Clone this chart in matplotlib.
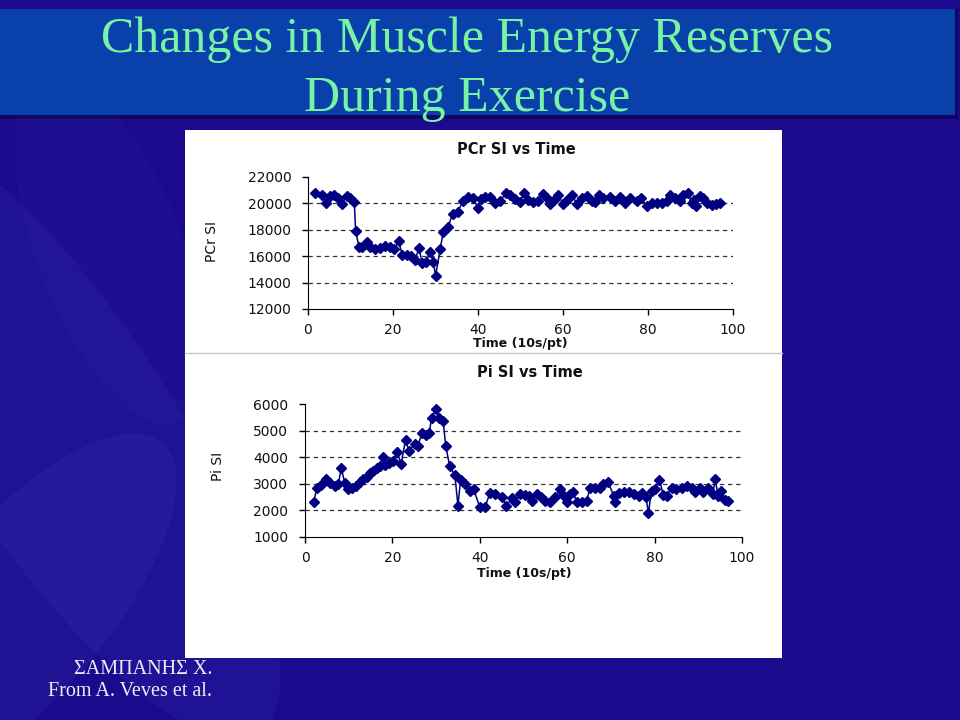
import matplotlib.pyplot as plt
from matplotlib.patches import Rectangle, Ellipse
from matplotlib.lines import Line2D

# -----------------------------
# Data
# -----------------------------
pcr_time = [1.7, 3.2, 4.2, 5.2, 6.2, 7.1, 7.9, 9.1, 9.9, 10.9, 11.2, 12.0, 12.8, 13.8,
            14.6, 15.8, 16.9, 18.1, 19.3, 20.3, 21.3, 22.2, 23.2, 24.2, 25.2, 26.1,
            26.9, 27.8, 28.7, 29.5, 30.0, 31.1, 31.8, 33.0, 34.0, 35.2, 36.5, 37.7,
            38.9, 40.0, 40.6, 41.6, 42.8, 44.0, 45.2, 46.6, 47.5, 48.7, 49.9, 50.8,
            51.8, 53.0, 54.2, 55.4, 56.3, 57.0, 57.8, 58.9, 60.0, 60.9, 62.1, 63.3,
            64.5, 65.6, 66.8, 67.6, 68.5, 69.5, 71.1, 72.2, 73.4, 74.6, 75.8, 77.3,
            78.4, 79.7, 80.9, 82.1, 83.2, 84.4, 85.2, 86.4, 87.5, 88.3, 89.5, 90.3,
            90.9, 91.4, 92.2, 93.0, 93.8, 95.0, 96.1, 96.9]
pcr_si = [20800, 20640, 20050, 20560, 20640, 20380, 19950, 20560, 20380, 20130, 17900,
          16720, 16720, 17100, 16720, 16550, 16600, 16750, 16720, 16550, 17150, 16090,
          16090, 16010, 15710, 16600, 15460, 15590, 16340, 15590, 14500, 16520, 17810,
          18240, 19200, 19350, 20200, 20460, 20380, 19630, 20330, 20510, 20510, 20050,
          20200, 20760, 20640, 20330, 20130, 20760, 20280, 20130, 20200, 20710, 20380,
          19950, 20250, 20640, 19950, 20250, 20640, 19950, 20380, 20560, 20200, 20130,
          20640, 20380, 20510, 20200, 20460, 20050, 20380, 20200, 20380, 19800, 20000,
          20050, 20000, 20200, 20640, 20380, 20200, 20640, 20810, 20000, 20250, 19800,
          20560, 20380, 20050, 19870, 19950, 20050]

pi_time = [2.0, 2.7, 3.7, 4.9, 5.8, 6.8, 7.6, 8.3, 9.1, 9.8, 10.8, 11.7, 12.5, 13.3,
           14.1, 14.8, 15.6, 16.4, 17.1, 17.9, 18.4, 19.2, 20.1, 21.1, 22.0, 23.0,
           23.8, 25.1, 25.8, 26.8, 27.7, 28.4, 29.0, 30.0, 30.6, 31.6, 32.2, 33.1,
           34.3, 35.0, 35.6, 36.6, 37.8, 38.6, 40.0, 41.2, 42.3, 43.5, 45.0, 46.1,
           47.3, 48.1, 49.2, 50.4, 51.3, 51.9, 53.0, 54.0, 54.9, 56.0, 57.2, 58.4,
           59.1, 59.9, 60.7, 61.4, 62.2, 63.4, 64.5, 65.2, 66.4, 67.5, 68.3, 69.4,
           70.6, 71.0, 71.8, 73.0, 74.1, 75.3, 76.4, 77.2, 78.0, 78.6, 79.3, 80.1,
           81.1, 82.0, 82.8, 83.9, 85.0, 86.2, 87.3, 88.5, 89.2, 90.4, 91.1, 92.3,
           93.4, 93.8, 94.6, 95.3, 96.1, 96.9]
pi_si = [2300, 2860, 2950, 3170, 3020, 2920, 2990, 3580, 3040, 2800, 2830, 2900, 3050,
         3170, 3270, 3400, 3490, 3610, 3680, 3990, 3700, 3800, 3870, 4180, 3740, 4650,
         4240, 4490, 4430, 4900, 4830, 4900, 5490, 5830, 5490, 5370, 4430, 3670, 3320,
         2170, 3150, 2990, 2730, 2800, 2110, 2110, 2650, 2610, 2490, 2180, 2450, 2300,
         2610, 2570, 2550, 2360, 2610, 2490, 2360, 2300, 2490, 2800, 2570, 2300, 2610,
         2680, 2300, 2300, 2360, 2860, 2860, 2860, 2990, 3070, 2550, 2300, 2650, 2680,
         2700, 2610, 2550, 2650, 2490, 1920, 2740, 2800, 3150, 2570, 2550, 2860, 2800,
         2860, 2900, 2860, 2700, 2860, 2680, 2860, 2610, 3170, 2550, 2740, 2400, 2360]

time_ticks = [0, 20, 40, 60, 80, 100]
pcr_ticks = [12000, 14000, 16000, 18000, 20000, 22000]
pi_ticks = [1000, 2000, 3000, 4000, 5000, 6000]

# -----------------------------
# Slide background
# -----------------------------
W, H = 960, 720
fig = plt.figure(figsize=(9.6, 7.2), dpi=100, facecolor="#1c0a8e")


def fx(px):
    return px / W


def fy(py):
    return 1 - py / H


# soft swirl on the left
for (cx, cy, w, h, ang, a) in [(60, 430, 240, 680, 25, 0.07),
                                (20, 610, 190, 400, -30, 0.08),
                                (110, 250, 150, 360, 15, 0.04)]:
    fig.patches.append(Ellipse((fx(cx), fy(cy)), w / W, h / H, angle=ang,
                               transform=fig.transFigure, facecolor="#5a86e6",
                               edgecolor="none", alpha=a, zorder=0))

# title band
fig.patches.append(Rectangle((fx(0), fy(119)), 958 / W, 110 / H, transform=fig.transFigure,
                             facecolor="#08063a", edgecolor="none", alpha=0.5, zorder=1))
fig.patches.append(Rectangle((fx(0), fy(115)), 955 / W, 106 / H, transform=fig.transFigure,
                             facecolor="#0a40aa", edgecolor="none", zorder=1))

serif = ["Liberation Serif", "DejaVu Serif"]
fig.text(fx(467), fy(40), "Changes in Muscle Energy Reserves", ha="center", va="center",
         fontsize=36, color="#78f2a4", family=serif, zorder=2)
fig.text(fx(467), fy(99), "During Exercise", ha="center", va="center",
         fontsize=36, color="#78f2a4", family=serif, zorder=2)

# white chart panel
fig.patches.append(Rectangle((fx(185), fy(658)), (782 - 185) / W, (658 - 130) / H,
                             transform=fig.transFigure, facecolor="white",
                             edgecolor="none", zorder=1))
fig.lines.append(Line2D([fx(185), fx(782)], [fy(353), fy(353)], transform=fig.transFigure,
                        color="#c8c8c8", linewidth=1, zorder=2))

# footer
fig.text(fx(212), fy(670), "ΣΑΜΠΑΝΗΣ Χ.", ha="right", va="center", fontsize=14.5,
         color="#eeeef6", family=serif, zorder=2)
fig.text(fx(212), fy(691), "From A. Veves et al.", ha="right", va="center", fontsize=14.5,
         color="#eeeef6", family=serif, zorder=2)

sans = ["DejaVu Sans"]


def draw_panel(rect, t, v, yticks, title, ylabel, title_xy, ylabel_xy, xlabel_xy):
    ax = fig.add_axes(rect, zorder=5)
    ax.set_facecolor("none")
    ax.plot(t, v, color="#000080", linewidth=1.1, marker="D", markersize=4.8,
            markerfacecolor="#000080", markeredgecolor="#000080", zorder=3,
            clip_on=False)
    for g in yticks[1:-1]:
        ax.axhline(g, color="#333333", linestyle=(0, (3.5, 3)), linewidth=0.9, zorder=1)
    ax.set_xlim(time_ticks[0], time_ticks[-1])
    ax.set_ylim(yticks[0], yticks[-1])
    ax.set_xticks(time_ticks)
    ax.set_yticks(yticks)
    ax.spines["top"].set_visible(False)
    ax.spines["right"].set_visible(False)
    ax.tick_params(axis="both", direction="out", length=4, width=1, color="black",
                   labelsize=10, labelcolor="#111111")
    ax.tick_params(axis="y", pad=8)
    ax.tick_params(axis="x", pad=6)
    for lab in ax.get_xticklabels() + ax.get_yticklabels():
        lab.set_family(sans)
    fig.text(fx(title_xy[0]), fy(title_xy[1]), title, ha="center", va="center",
             fontsize=10.5, fontweight="bold", color="#111111", family=sans, zorder=6)
    fig.text(fx(ylabel_xy[0]), fy(ylabel_xy[1]), ylabel, ha="center", va="center",
             rotation=90, fontsize=10, color="#111111", family=sans, zorder=6)
    fig.text(fx(xlabel_xy[0]), fy(xlabel_xy[1]), "Time (10s/pt)", ha="center", va="center",
             fontsize=9, fontweight="bold", color="#111111", family=sans, zorder=6)
    return ax


draw_panel([fx(308), fy(309), (733 - 308) / W, (309 - 177) / H], pcr_time, pcr_si,
           pcr_ticks, "PCr SI vs Time", "PCr SI", (516, 149), (212, 242), (520, 343))
draw_panel([fx(305), fy(537), (742 - 305) / W, (537 - 404) / H], pi_time, pi_si,
           pi_ticks, "Pi SI vs Time", "Pi SI", (530, 372), (218, 466), (524, 574))

fig.savefig("out.png", dpi=100, facecolor=fig.get_facecolor())
